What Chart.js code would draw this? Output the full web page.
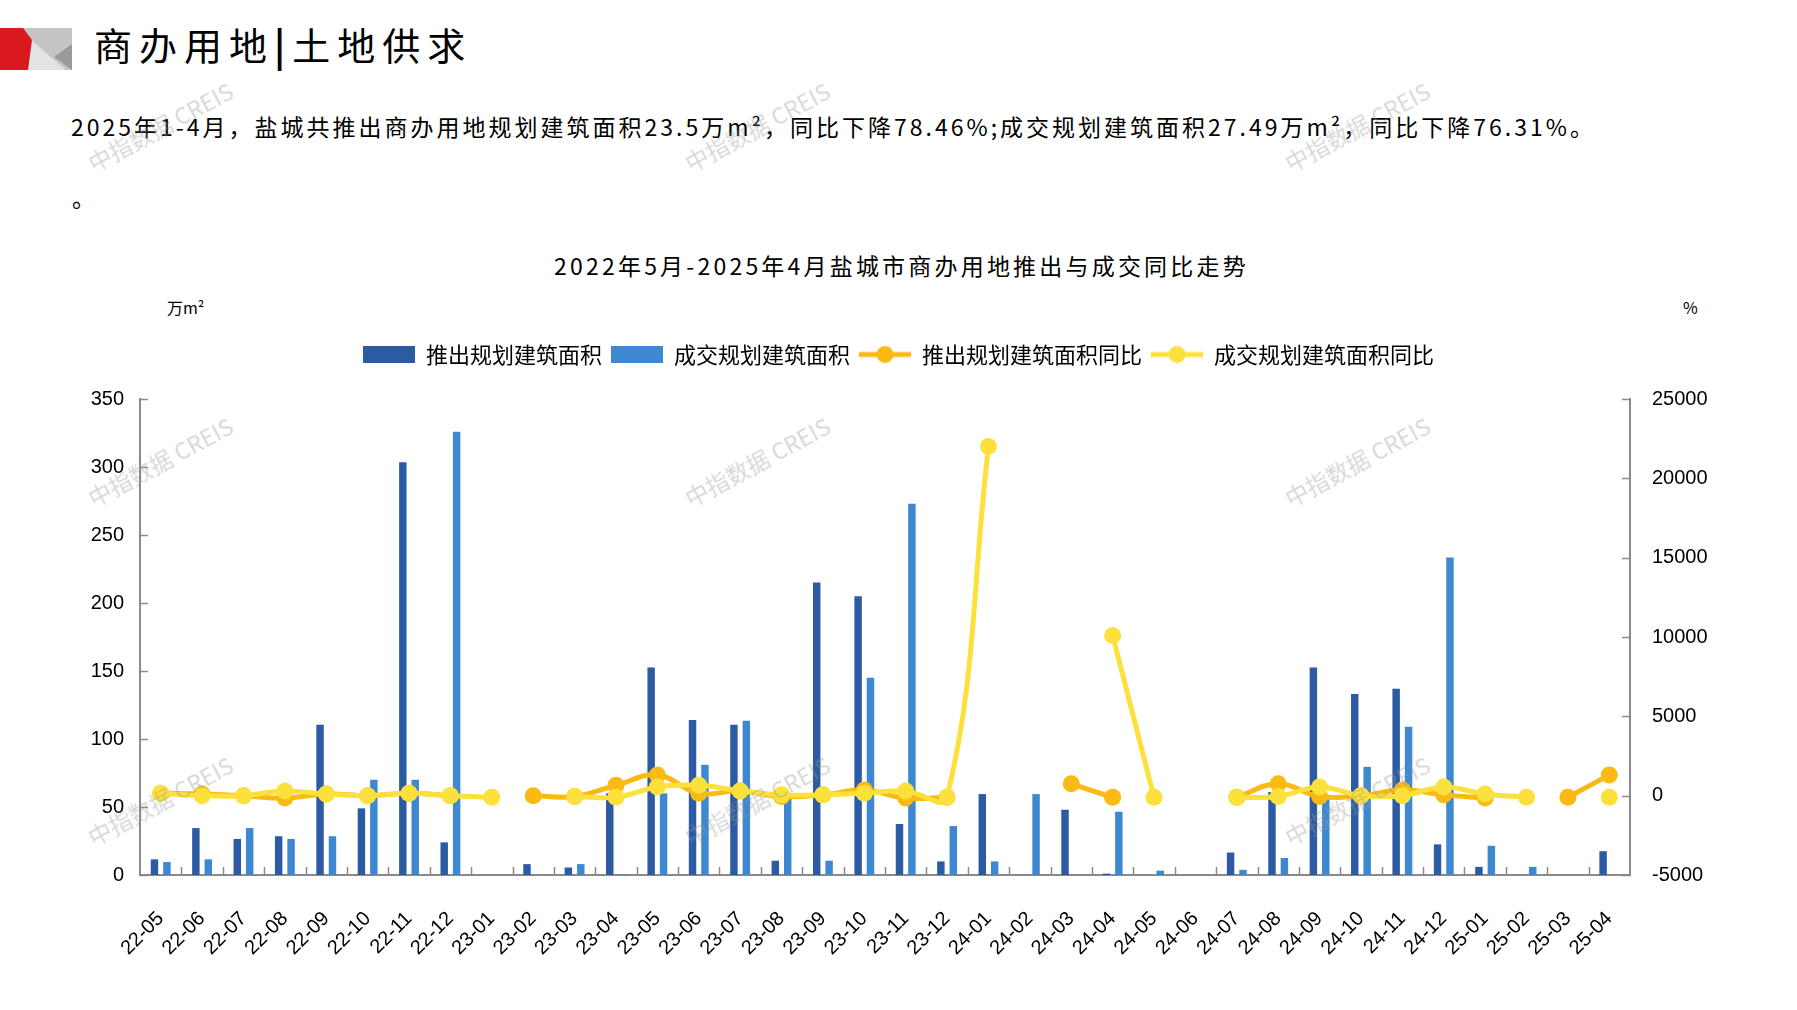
<!DOCTYPE html>
<html>
<head>
<meta charset="utf-8">
<script src="https://cdn.jsdelivr.net/npm/chart.js@4.4.0/dist/chart.umd.min.js"></script>
<style>
html,body{margin:0;padding:0;background:#fff;width:1797px;height:1010px;overflow:hidden;}
#wrap{position:relative;width:1797px;height:1010px;font-family:"Noto Sans CJK SC","Noto Sans",sans-serif;}
#chartBox{position:absolute;left:0;top:0;width:1797px;height:1010px;}
.t{position:absolute;white-space:nowrap;color:#000;line-height:1;}
.wm{position:absolute;white-space:nowrap;color:rgba(150,150,150,0.38);font-size:23px;transform:translate(-50%,-50%) rotate(-28deg);font-family:"Noto Sans CJK SC","Liberation Sans",sans-serif;pointer-events:none;z-index:5;}
</style>
</head>
<body>
<div id="wrap">
  <svg style="position:absolute;left:0;top:0" width="80" height="80">
    <polygon points="23,28 72,28 72,70 23,70" fill="#c4c4c4"/>
    <polygon points="31,40 28,70 66,70" fill="#e3e3e3"/>
    <polygon points="72,44 72,70 54,57" fill="#9a9a9a"/>
    <polygon points="0,28 23,28 32,40 28,70 0,70" fill="#d9191f"/>
  </svg>
  <div class="t" style="left:94px;top:25px;font-size:38px;letter-spacing:7px;">商办用地<span style="font-weight:700">|</span>土地供求</div>
  <div class="t" style="left:71px;top:115px;font-size:23px;letter-spacing:3px;">2025年1-4月，盐城共推出商办用地规划建筑面积23.5万m²，同比下降78.46%;成交规划建筑面积27.49万m²，同比下降76.31%。</div>
  <div class="t" style="left:72px;top:186px;font-size:23px;">。</div>
  <div class="t" style="left:0;width:1797px;text-align:center;top:254px;font-size:23px;letter-spacing:3.2px;"><span style="margin-left:6px">2022年5月-2025年4月盐城市商办用地推出与成交同比走势</span></div>
  <div class="t" style="left:167px;top:299px;font-size:16px;">万m²</div>
  <div class="t" style="left:1683px;top:299px;font-size:16px;">%</div>
  <div id="chartBox"><canvas id="c"></canvas></div>
  <div class="wm" style="left:160px;top:126px;">中指数据 CREIS</div>
  <div class="wm" style="left:757px;top:126px;">中指数据 CREIS</div>
  <div class="wm" style="left:1357px;top:126px;">中指数据 CREIS</div>
  <div class="wm" style="left:160px;top:461px;">中指数据 CREIS</div>
  <div class="wm" style="left:757px;top:461px;">中指数据 CREIS</div>
  <div class="wm" style="left:1357px;top:461px;">中指数据 CREIS</div>
  <div class="wm" style="left:160px;top:800px;">中指数据 CREIS</div>
  <div class="wm" style="left:757px;top:800px;">中指数据 CREIS</div>
  <div class="wm" style="left:1357px;top:800px;">中指数据 CREIS</div>
</div>
<script>
const categories = ['22-05','22-06','22-07','22-08','22-09','22-10','22-11','22-12','23-01','23-02','23-03','23-04','23-05','23-06','23-07','23-08','23-09','23-10','23-11','23-12','24-01','24-02','24-03','24-04','24-05','24-06','24-07','24-08','24-09','24-10','24-11','24-12','25-01','25-02','25-03','25-04'];

// 推出规划建筑面积 (万m²)
const supplyArea = [11.5,34.5,26.5,28.5,110.5,49,303.5,24,null,8,5.5,60,152.5,114,110.5,10.5,215,205,37.5,10,59.5,null,48,1,null,null,16.5,61,152.5,133,137,22.5,6,null,null,17.5];
// 成交规划建筑面积 (万m²)
const dealArea = [9.5,11.5,34.5,26.5,28.5,70,70,326,null,null,8,0.5,60,81,113.5,58,10.5,145,273,36,10,59.5,null,46.5,3.2,null,3.8,12.5,59,79.5,109,233.5,21.5,6,null,null];
// 推出规划建筑面积同比 (%)
const supplyYoY = [150,100,0,-150,100,0,150,0,null,0,-50,650,1300,150,300,-50,50,350,-150,-100,null,null,750,-100,null,null,-100,750,-50,0,350,50,-150,null,-100,1300];
// 成交规划建筑面积同比 (%)
const dealYoY = [150,0,0,300,100,0,150,0,-100,null,-50,-100,550,650,300,50,50,150,300,-100,22000,null,null,10100,-100,null,-100,-50,550,0,0,550,100,-100,null,-100];

const leftTicks = [0,50,100,150,200,250,300,350];
const rightTicks = [-5000,0,5000,10000,15000,20000,25000];

const C_DARK = '#2D5BA3';
const C_LIGHT = '#3D88D0';
const C_ORANGE = '#FBB914';
const C_YELLOW = '#FCE13C';
const AXIS = '#8a8a8a';

function boxIcon(color){
  const c=document.createElement('canvas'); c.width=52; c.height=17;
  const x=c.getContext('2d'); x.fillStyle=color; x.fillRect(0,0,52,17); return c;
}
function lineIcon(color){
  const c=document.createElement('canvas'); c.width=52; c.height=18;
  const x=c.getContext('2d'); x.fillStyle=color; x.fillRect(0,6.5,52,5);
  x.beginPath(); x.arc(26,9,8.5,0,Math.PI*2); x.fill(); return c;
}
const legendIcons = [boxIcon(C_DARK), boxIcon(C_LIGHT), lineIcon(C_ORANGE), lineIcon(C_YELLOW)];

const legendSpacer = {
  id:'legendSpacer',
  beforeLayout(chart){
    const lg = chart.legend;
    if (lg && !lg._patched){
      const orig = lg.fit;
      lg.fit = function(){ orig.call(this); this.height += 23.5; };
      lg._patched = true;
    }
  }
};

const innerTicks = {
  id:'innerTicks',
  afterDatasetsDraw(chart){
    const ctx = chart.ctx, a = chart.chartArea;
    const y = chart.scales.y, y1 = chart.scales.y1, x = chart.scales.x;
    ctx.save();
    ctx.strokeStyle = AXIS; ctx.lineWidth = 1.5;
    ctx.beginPath();
    leftTicks.forEach(v => { const p = Math.round(y.getPixelForValue(v))+0.5; ctx.moveTo(a.left, p); ctx.lineTo(a.left+8, p); });
    rightTicks.forEach(v => { const p = Math.round(y1.getPixelForValue(v))+0.5; ctx.moveTo(a.right-8, p); ctx.lineTo(a.right, p); });
    for (let i = 1; i < categories.length; i++){
      const p = Math.round((x.getPixelForValue(i-1) + x.getPixelForValue(i))/2)+0.5;
      ctx.moveTo(p, a.bottom); ctx.lineTo(p, a.bottom-8);
    }
    ctx.stroke();
    ctx.restore();
  }
};

new Chart(document.getElementById('c'), {
  type:'bar',
  data:{
    labels: categories,
    datasets:[
      {label:'推出规划建筑面积', data: supplyArea, backgroundColor:C_DARK, yAxisID:'y', order:2, categoryPercentage:0.6, barPercentage:0.6},
      {label:'成交规划建筑面积', data: dealArea, backgroundColor:C_LIGHT, yAxisID:'y', order:2, categoryPercentage:0.6, barPercentage:0.6},
      {type:'line', label:'推出规划建筑面积同比', data: supplyYoY, borderColor:C_ORANGE, backgroundColor:C_ORANGE, yAxisID:'y1', order:1, borderWidth:5, tension:0.4, pointRadius:8.5, pointHoverRadius:8.5, pointBorderWidth:0, pointBackgroundColor:C_ORANGE, spanGaps:false},
      {type:'line', label:'成交规划建筑面积同比', data: dealYoY, borderColor:C_YELLOW, backgroundColor:C_YELLOW, yAxisID:'y1', order:0, borderWidth:5, tension:0.4, pointRadius:8.5, pointHoverRadius:8.5, pointBorderWidth:0, pointBackgroundColor:C_YELLOW, spanGaps:false}
    ]
  },
  options:{
    responsive:true, maintainAspectRatio:false, animation:false,
    layout:{padding:{top:334.5,left:0,right:0,bottom:0}},
    plugins:{
      tooltip:{enabled:false},
      title:{display:false},
      legend:{
        display:true, position:'top',
        labels:{
          usePointStyle:true, pointStyleWidth:52, padding:9, color:'#000',
          font:{family:'"Noto Sans CJK SC"', size:22},
          sort:(a,b)=>a.datasetIndex-b.datasetIndex,
          generateLabels(chart){
            const items = Chart.defaults.plugins.legend.labels.generateLabels(chart);
            items.forEach(it => { it.pointStyle = legendIcons[it.datasetIndex]; });
            return items;
          }
        }
      }
    },
    scales:{
      x:{
        offset:true,
        grid:{display:false, drawTicks:false},
        border:{display:true, color:AXIS, width:2},
        ticks:{color:'#000', font:{family:'"Liberation Sans"', size:20}, minRotation:45, maxRotation:45, autoSkip:false, padding:32},
        afterFit(s){ s.height = 135; }
      },
      y:{
        position:'left', min:0, max:350,
        afterBuildTicks(s){ s.ticks = leftTicks.map(v=>({value:v})); },
        grid:{display:false, drawTicks:false},
        border:{display:true, color:AXIS, width:2},
        ticks:{color:'#000', font:{family:'"Liberation Sans"', size:20}, padding:16},
        afterFit(s){ s.width = 140; }
      },
      y1:{
        position:'right', min:-5000, max:25000,
        afterBuildTicks(s){ s.ticks = rightTicks.map(v=>({value:v})); },
        grid:{display:false, drawTicks:false},
        border:{display:true, color:AXIS, width:2},
        ticks:{color:'#000', font:{family:'"Liberation Sans"', size:20}, padding:22, callback:(v)=>String(v)},
        afterFit(s){ s.width = 167; }
      }
    }
  },
  plugins:[legendSpacer, innerTicks]
});
</script>
</body>
</html>
